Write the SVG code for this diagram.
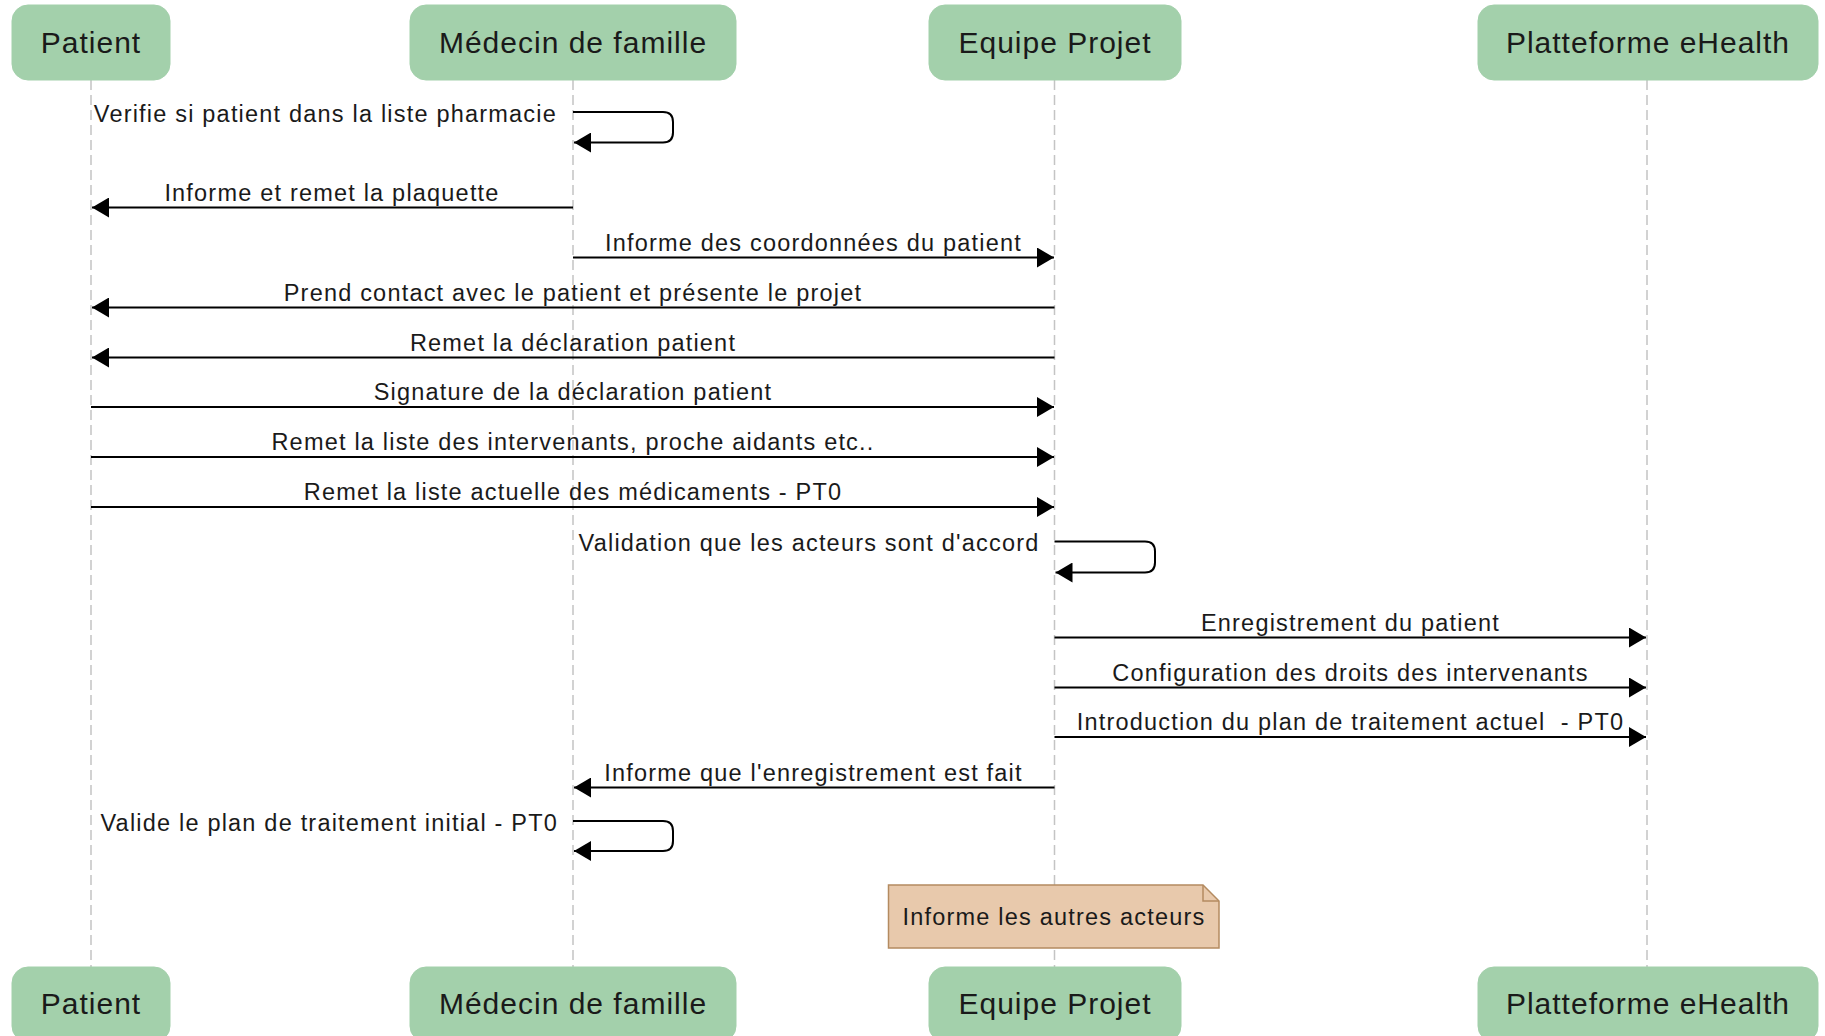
<svg xmlns="http://www.w3.org/2000/svg" width="1825" height="1036" viewBox="0 0 1825 1036">
<defs>
<style>
.actor rect{fill:#A3D0AB;stroke:#A3D0AB;stroke-width:1}
.actor text{font-family:"Liberation Sans",Arial,Helvetica,sans-serif;font-size:30px;letter-spacing:1px;fill:#1a1a1a;text-anchor:middle}
.life{stroke:#c4c4c4;stroke-width:1.5;stroke-dasharray:10 5;fill:none}
.msg{stroke:#000;stroke-width:2;fill:none}
.lbl{font-family:"Liberation Sans",Arial,Helvetica,sans-serif;font-size:23.5px;letter-spacing:1.2px;fill:#1a1a1a;text-anchor:middle;white-space:pre}
.lbl.end{text-anchor:end}
.note path.body{fill:#E8C9AC;stroke:#B48B60;stroke-width:1.5}
.note path.fold{fill:none;stroke:#B48B60;stroke-width:1.5}
</style>
<marker id="ah" viewBox="0 0 17 20" refX="17" refY="10" markerWidth="17" markerHeight="20" markerUnits="userSpaceOnUse" orient="auto">
<path d="M0,0 L17,10 L0,20 Z" fill="#000"/>
</marker>
</defs>
<rect width="1825" height="1036" fill="#fff"/>
<g id="lifelines">
<line class="life" x1="91" y1="80" x2="91" y2="967"/>
<line class="life" x1="573" y1="80" x2="573" y2="967"/>
<line class="life" x1="1054.5" y1="80" x2="1054.5" y2="967"/>
<line class="life" x1="1647" y1="80" x2="1647" y2="967"/>
</g>
<g id="connectors">
<path class="msg" d="M573,112 H663 Q673,112 673,122 V132.5 Q673,142.5 663,142.5 H574" marker-end="url(#ah)"/>
<text class="lbl end" x="557" y="121.5">Verifie si patient dans la liste pharmacie</text>
<line class="msg" x1="573" y1="207.5" x2="92" y2="207.5" marker-end="url(#ah)"/>
<text class="lbl" x="332" y="200.5">Informe et remet la plaquette</text>
<line class="msg" x1="573" y1="257.5" x2="1054" y2="257.5" marker-end="url(#ah)"/>
<text class="lbl" x="813.5" y="250.5">Informe des coordonnées du patient</text>
<line class="msg" x1="1054.5" y1="307.5" x2="92" y2="307.5" marker-end="url(#ah)"/>
<text class="lbl" x="573" y="300.5">Prend contact avec le patient et présente le projet</text>
<line class="msg" x1="1054.5" y1="357.5" x2="92" y2="357.5" marker-end="url(#ah)"/>
<text class="lbl" x="573" y="350.5">Remet la déclaration patient</text>
<line class="msg" x1="91" y1="407" x2="1054" y2="407" marker-end="url(#ah)"/>
<text class="lbl" x="573" y="400">Signature de la déclaration patient</text>
<line class="msg" x1="91" y1="457" x2="1054" y2="457" marker-end="url(#ah)"/>
<text class="lbl" x="573" y="450">Remet la liste des intervenants, proche aidants etc..</text>
<line class="msg" x1="91" y1="507" x2="1054" y2="507" marker-end="url(#ah)"/>
<text class="lbl" x="573" y="500">Remet la liste actuelle des médicaments - PT0</text>
<path class="msg" d="M1054.5,541.5 H1145 Q1155,541.5 1155,551.5 V562.5 Q1155,572.5 1145,572.5 H1055.5" marker-end="url(#ah)"/>
<text class="lbl end" x="1039.5" y="550.5">Validation que les acteurs sont d'accord</text>
<line class="msg" x1="1054.5" y1="637.5" x2="1646" y2="637.5" marker-end="url(#ah)"/>
<text class="lbl" x="1350.5" y="630.5">Enregistrement du patient</text>
<line class="msg" x1="1054.5" y1="687.5" x2="1646" y2="687.5" marker-end="url(#ah)"/>
<text class="lbl" x="1350.5" y="680.5">Configuration des droits des intervenants</text>
<line class="msg" x1="1054.5" y1="737" x2="1646" y2="737" marker-end="url(#ah)"/>
<text class="lbl" x="1350.5" y="730">Introduction du plan de traitement actuel  - PT0</text>
<line class="msg" x1="1054.5" y1="787.5" x2="574" y2="787.5" marker-end="url(#ah)"/>
<text class="lbl" x="813.5" y="780.5">Informe que l'enregistrement est fait</text>
<path class="msg" d="M573,821 H663 Q673,821 673,831 V841 Q673,851 663,851 H574" marker-end="url(#ah)"/>
<text class="lbl end" x="558" y="830.5">Valide le plan de traitement initial - PT0</text>
</g>
<g id="note" class="note">
<path class="body" d="M888.5,885 H1203 L1219,901 V948 H888.5 Z"/>
<path class="fold" d="M1203,885 V901 H1219"/>
<text class="lbl" x="1054" y="924.5">Informe les autres acteurs</text>
</g>
<g id="actor-patient-top" class="actor"><rect x="12" y="5" width="158" height="75" rx="16"/><text x="91" y="53">Patient</text></g>
<g id="actor-medecin-top" class="actor"><rect x="410" y="5" width="326" height="75" rx="16"/><text x="573" y="53">Médecin de famille</text></g>
<g id="actor-equipe-top" class="actor"><rect x="929" y="5" width="252" height="75" rx="16"/><text x="1055" y="53">Equipe Projet</text></g>
<g id="actor-plateforme-top" class="actor"><rect x="1478" y="5" width="340" height="75" rx="16"/><text x="1648" y="53">Platteforme eHealth</text></g>
<g id="actor-patient-bottom" class="actor"><rect x="12" y="967" width="158" height="75" rx="16"/><text x="91" y="1014">Patient</text></g>
<g id="actor-medecin-bottom" class="actor"><rect x="410" y="967" width="326" height="75" rx="16"/><text x="573" y="1014">Médecin de famille</text></g>
<g id="actor-equipe-bottom" class="actor"><rect x="929" y="967" width="252" height="75" rx="16"/><text x="1055" y="1014">Equipe Projet</text></g>
<g id="actor-plateforme-bottom" class="actor"><rect x="1478" y="967" width="340" height="75" rx="16"/><text x="1648" y="1014">Platteforme eHealth</text></g>
</svg>
